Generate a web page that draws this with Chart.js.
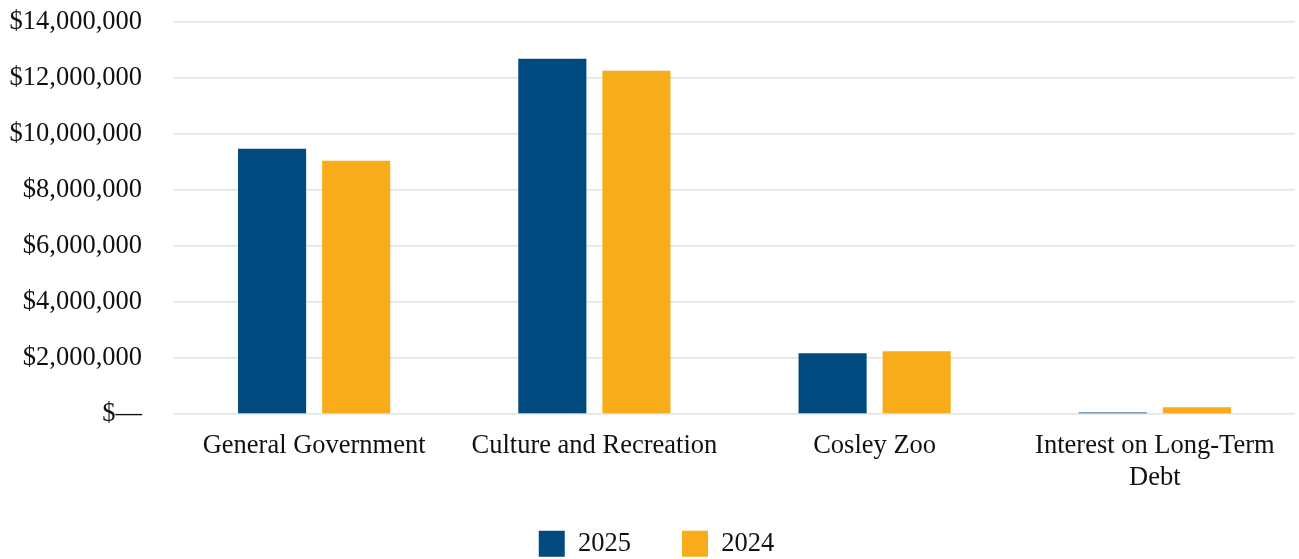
<!DOCTYPE html>
<html>
<head>
<meta charset="utf-8">
<script src="https://cdn.jsdelivr.net/npm/chart.js@4"></script>
<style>
  html, body { margin: 0; padding: 0; background: #fff; }
  #wrap { width: 1299px; height: 559px; position: relative; }
</style>
</head>
<body>
<div id="wrap"><canvas id="chart-expenses"></canvas></div>
<script>
// Program expenses by function, two fiscal years
const categories = [
  'General Government',
  'Culture and Recreation',
  'Cosley Zoo',
  ['Interest on Long-Term', 'Debt']
];
const expenses2025 = [9470000, 12690000, 2170000, 50000];
const expenses2024 = [9040000, 12260000, 2240000, 240000];
const yTicks = [0, 2000000, 4000000, 6000000, 8000000, 10000000, 12000000, 14000000];

const COLORS = {
  y2025: '#004A7F',
  y2024: '#F9AC1A',
  grid: '#e2e2e2',
  text: '#111'
};

const FONT = { family: '"Liberation Serif", "Times New Roman", serif', size: 26.5 };

// legend tweaks: shrink the reserved height and nudge the row
const LEGEND_TRIM = 38;
const LEGEND_SHIFT_X = 9;
const LEGEND_SHIFT_Y = -30;

function money(v) {
  if (v === 0) return '$\u2014';
  return '$' + v.toLocaleString('en-US');
}

const legendTweak = {
  id: 'legendTweak',
  beforeLayout(chart) {
    const lg = chart.legend;
    if (!lg || lg._tweaked) return;
    lg._tweaked = true;
    const fit = lg.fit;
    lg.fit = function() {
      fit.call(this);
      this.height -= LEGEND_TRIM;
    };
    const draw = lg.draw;
    lg.draw = function() {
      const saved = { top: this.top, left: this.left, right: this.right };
      this.top += LEGEND_SHIFT_Y;
      this.left += LEGEND_SHIFT_X;
      this.right += LEGEND_SHIFT_X;
      draw.call(this);
      Object.assign(this, saved);
    };
  }
};

new Chart(document.getElementById('chart-expenses'), {
  type: 'bar',
  data: {
    labels: categories,
    datasets: [
      {
        label: '2025',
        data: expenses2025,
        backgroundColor: COLORS.y2025,
        categoryPercentage: 0.6,
        barPercentage: 0.81
      },
      {
        label: '2024',
        data: expenses2024,
        backgroundColor: COLORS.y2024,
        categoryPercentage: 0.6,
        barPercentage: 0.81
      }
    ]
  },
  plugins: [legendTweak],
  options: {
    responsive: true,
    maintainAspectRatio: false,
    animation: false,
    layout: { autoPadding: false, padding: { top: 22, right: 4, left: 0, bottom: 0 } },
    plugins: {
      tooltip: { enabled: false },
      legend: {
        position: 'bottom',
        labels: {
          boxWidth: 26,
          boxHeight: 26,
          padding: 51,
          color: COLORS.text,
          font: FONT
        }
      }
    },
    scales: {
      x: {
        grid: { display: false, drawTicks: false },
        border: { display: false },
        ticks: {
          color: COLORS.text,
          font: FONT,
          padding: 16,
          maxRotation: 0,
          autoSkip: false
        }
      },
      y: {
        min: yTicks[0],
        max: yTicks[yTicks.length - 1],
        afterFit: (scale) => {
          // fixed axis width; tick padding should not push the plot down
          scale.width = 174;
          scale.paddingTop = 0;
          scale.paddingBottom = 0;
        },
        grid: { color: COLORS.grid, lineWidth: 1.5, drawTicks: false },
        border: { display: false },
        ticks: {
          color: COLORS.text,
          font: FONT,
          padding: 32,
          stepSize: yTicks[1] - yTicks[0],
          callback: (v) => money(v)
        }
      }
    }
  }
});
</script>
</body>
</html>
